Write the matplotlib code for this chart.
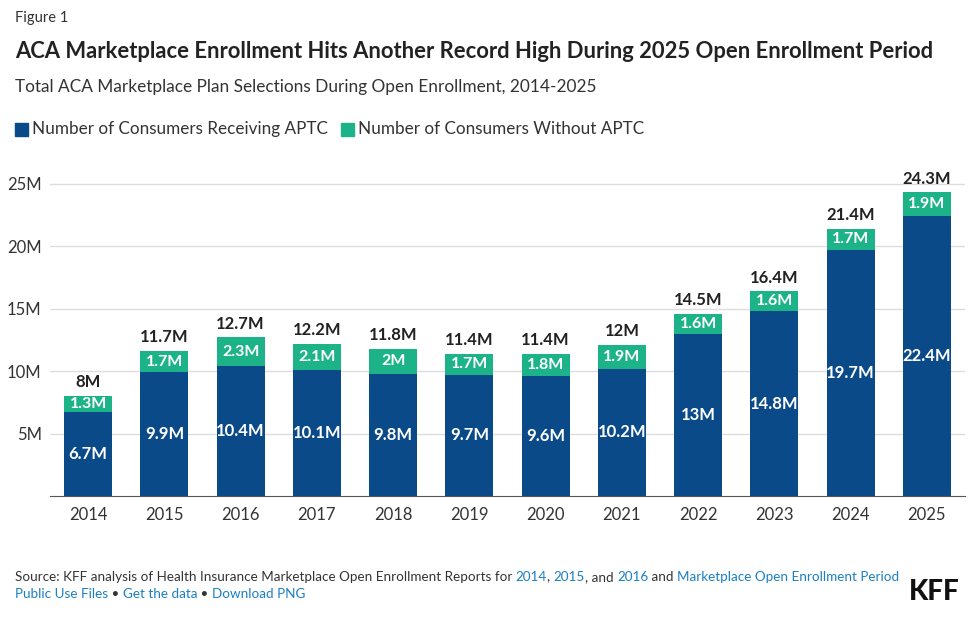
import matplotlib.pyplot as plt
from matplotlib.patches import Rectangle

plt.rcParams['font.family'] = ['Lato', 'DejaVu Sans']

years = ['2014', '2015', '2016', '2017', '2018', '2019', '2020', '2021', '2022', '2023', '2024', '2025']
aptc = [6.7, 9.9, 10.4, 10.1, 9.8, 9.7, 9.6, 10.2, 13, 14.8, 19.7, 22.4]
no_aptc = [1.3, 1.7, 2.3, 2.1, 2, 1.7, 1.8, 1.9, 1.6, 1.6, 1.7, 1.9]
totals = ['8M', '11.7M', '12.7M', '12.2M', '11.8M', '11.4M', '11.4M', '12M', '14.5M', '16.4M', '21.4M', '24.3M']
aptc_lbl = ['6.7M', '9.9M', '10.4M', '10.1M', '9.8M', '9.7M', '9.6M', '10.2M', '13M', '14.8M', '19.7M', '22.4M']
no_lbl = ['1.3M', '1.7M', '2.3M', '2.1M', '2M', '1.7M', '1.8M', '1.9M', '1.6M', '1.6M', '1.7M', '1.9M']

BLUE = '#0b4a89'
GREEN = '#1db388'
LINK = '#1a7fc4'

fig = plt.figure(figsize=(9.75, 6.22), dpi=100)
ax = fig.add_axes([50 / 975, 1 - 496 / 622, 915 / 975, (496 - 165) / 622])

x = range(len(years))
ax.bar(x, aptc, width=0.63, color=BLUE, zorder=3)
ax.bar(x, no_aptc, bottom=aptc, width=0.63, color=GREEN, zorder=3)
for i in x:
    ax.text(i, aptc[i] / 2, aptc_lbl[i], ha='center', va='center', color='white',
            fontsize=12, fontweight='bold', zorder=4)
    ax.text(i, aptc[i] + no_aptc[i] / 2, no_lbl[i], ha='center', va='center', color='white',
            fontsize=11.5, fontweight='bold', zorder=4)
    ax.text(i, aptc[i] + no_aptc[i] + 0.45, totals[i], ha='center', va='bottom', color='#222222',
            fontsize=12, fontweight='bold', zorder=4)

ax.set_xlim(-0.5, 11.5)
ax.set_ylim(0, 26.5)
ax.set_xticks(list(x))
ax.set_xticklabels(years, fontsize=12, color='#333333')
ax.set_yticks([5, 10, 15, 20, 25])
ax.set_yticklabels(['5M', '10M', '15M', '20M', '25M'], fontsize=12, color='#333333')
ax.tick_params(axis='both', length=0, pad=8)
ax.tick_params(axis='y', pad=6)
ax.grid(axis='y', color='#dddddd', linewidth=1, zorder=0)
for s in ['top', 'right', 'left']:
    ax.spines[s].set_visible(False)
ax.spines['bottom'].set_color('#555555')

fig.text(15 / 975, 1 - 18 / 622, 'Figure 1', fontsize=10.5, color='#333333', va='center')
fig.text(15 / 975, 1 - 52 / 622, 'ACA Marketplace Enrollment Hits Another Record High During 2025 Open Enrollment Period',
         fontsize=15.8, fontweight='bold', color='#222222', va='center')
fig.text(15 / 975, 1 - 87 / 622, 'Total ACA Marketplace Plan Selections During Open Enrollment, 2014-2025',
         fontsize=12.4, color='#333333', va='center')

# legend
ly = 1 - 129 / 622
fig.patches.append(Rectangle((15 / 975, ly - 7 / 622), 13 / 975, 13 / 622, transform=fig.transFigure, color=BLUE))
fig.text(32 / 975, ly, 'Number of Consumers Receiving APTC', fontsize=12.3, color='#333333', va='center')
fig.patches.append(Rectangle((341 / 975, ly - 7 / 622), 13 / 975, 13 / 622, transform=fig.transFigure, color=GREEN))
fig.text(358 / 975, ly, 'Number of Consumers Without APTC', fontsize=12.3, color='#333333', va='center')

# source with links
renderer = fig.canvas.get_renderer()


def runs(parts, xpx, ypx):
    cur = xpx / 975
    for txt, col in parts:
        t = fig.text(cur, 1 - ypx / 622, txt, fontsize=9.7, color=col, va='center')
        bb = t.get_window_extent(renderer)
        cur += bb.width / 975


runs([('Source: KFF analysis of Health Insurance Marketplace Open Enrollment Reports for ', '#333333'),
      ('2014', LINK), (', ', '#333333'), ('2015', LINK), (', and ', '#333333'), ('2016', LINK),
      (' and ', '#333333'), ('Marketplace Open Enrollment Period', LINK)], 15, 577)
runs([('Public Use Files', LINK), (' \u2022 ', '#333333'), ('Get the data', LINK),
      (' \u2022 ', '#333333'), ('Download PNG', LINK)], 15, 594)
fig.text(960 / 975, 1 - 592 / 622, 'KFF', fontsize=20, fontweight='black', color='#111111',
         ha='right', va='center')

fig.savefig('out.png', dpi=100, facecolor='white')
